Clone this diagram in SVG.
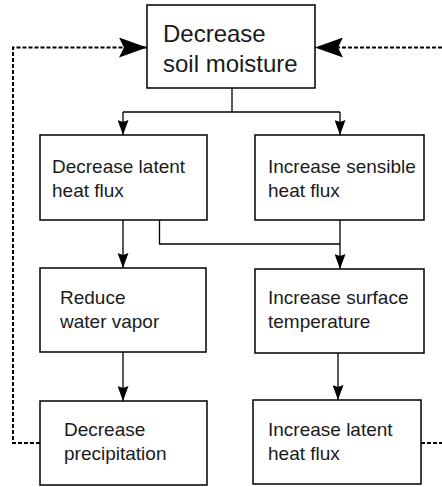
<svg xmlns="http://www.w3.org/2000/svg" width="442" height="487" viewBox="0 0 442 487">
<defs>
<marker id="ah" viewBox="0 0 15 11" refX="15" refY="5.5" markerWidth="15" markerHeight="11" markerUnits="userSpaceOnUse" orient="auto">
<path d="M0,0 L15,5.5 L0,11 L2,5.5 Z" fill="#000"/>
</marker>
<marker id="big" viewBox="0 0 28 20" refX="28" refY="10" markerWidth="28" markerHeight="20" markerUnits="userSpaceOnUse" orient="auto">
<path d="M0,0 L28,10 L0,20 L5,10 Z" fill="#000"/>
</marker>
<style>
.box{fill:#fff;stroke:#000;stroke-width:1.5}
.t{font-family:"Liberation Sans",Arial,sans-serif;font-size:19px;fill:#1a1a1a}
.tb{font-family:"Liberation Sans",Arial,sans-serif;font-size:24px;fill:#1a1a1a}
.c{fill:none;stroke:#000;stroke-width:1.3}
.d{fill:none;stroke:#000;stroke-width:2;stroke-dasharray:4,2}
</style>
</defs>
<g id="connectors">
<path class="c" d="M232,88 V112"/>
<path class="c" d="M123,112 H340"/>
<path class="c" d="M123,112 V135" marker-end="url(#ah)"/>
<path class="c" d="M340,112 V135" marker-end="url(#ah)"/>
<path class="c" d="M123,220 V268" marker-end="url(#ah)"/>
<path class="c" d="M340,220 V269" marker-end="url(#ah)"/>
<path class="c" d="M159.5,220 V244 H340"/>
<path class="c" d="M123,352 V401" marker-end="url(#ah)"/>
<path class="c" d="M338,353 V400" marker-end="url(#ah)"/>
<path class="d" d="M40,443 H13 V47.5 H147" marker-end="url(#big)"/>
<path class="d" d="M421,443 H442"/>
<path class="d" d="M442,47.5 H315" marker-end="url(#big)"/>
</g>
<g id="n1">
<rect class="box" x="147" y="5" width="168" height="83"/>
<text class="tb" x="163" y="41.5">Decrease</text>
<text class="tb" x="163" y="71.5">soil moisture</text>
</g>
<g id="n2">
<rect class="box" x="40" y="135" width="167" height="85"/>
<text class="t" x="52" y="173">Decrease latent</text>
<text class="t" x="52" y="196.5">heat flux</text>
</g>
<g id="n3">
<rect class="box" x="255" y="135" width="169" height="85"/>
<text class="t" x="268" y="173">Increase sensible</text>
<text class="t" x="268" y="196.5">heat flux</text>
</g>
<g id="n4">
<rect class="box" x="40" y="268" width="166" height="84"/>
<text class="t" x="60" y="304">Reduce</text>
<text class="t" x="60" y="328">water vapor</text>
</g>
<g id="n5">
<rect class="box" x="255" y="269" width="169" height="84"/>
<text class="t" x="268" y="304">Increase surface</text>
<text class="t" x="268" y="328">temperature</text>
</g>
<g id="n6">
<rect class="box" x="40" y="401" width="167" height="84"/>
<text class="t" x="64" y="436">Decrease</text>
<text class="t" x="64" y="460">precipitation</text>
</g>
<g id="n7">
<rect class="box" x="253" y="400" width="168" height="84"/>
<text class="t" x="268" y="436">Increase latent</text>
<text class="t" x="268" y="460">heat flux</text>
</g>
</svg>
